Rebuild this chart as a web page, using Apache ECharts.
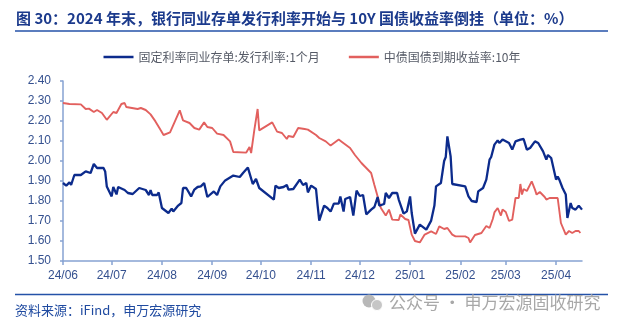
<!DOCTYPE html>
<html><head><meta charset="utf-8">
<script src="https://cdn.jsdelivr.net/npm/echarts@6/dist/echarts.min.js"></script>
<style>html,body{margin:0;padding:0;background:#fff}#c{width:624px;height:328px}</style>
</head><body><div id="c"></div>
<script>
var titleText = '图 30：2024 年末，银行同业存单发行利率开始与 10Y 国债收益率倒挂（单位：%）';
var sourceText = '资料来源：iFind，申万宏源研究';
var watermarkText = '公众号 · 申万宏源固收研究';
var seriesNames = ['固定利率同业存单:发行利率:1个月', '中债国债到期收益率:10年'];
var yTicks = [1.5, 2.4, 0.1];

var blueDates = ['2024-06-01','2024-06-03','2024-06-05','2024-06-06','2024-06-08','2024-06-12','2024-06-15','2024-06-18','2024-06-19','2024-06-20','2024-06-22','2024-06-26','2024-06-27','2024-06-28','2024-07-01','2024-07-02','2024-07-04','2024-07-05','2024-07-09','2024-07-11','2024-07-14','2024-07-18','2024-07-22','2024-07-24','2024-07-25','2024-07-26','2024-07-29','2024-07-30','2024-08-01','2024-08-05','2024-08-07','2024-08-08','2024-08-11','2024-08-13','2024-08-14','2024-08-16','2024-08-19','2024-08-21','2024-08-23','2024-08-25','2024-08-27','2024-08-29','2024-09-02','2024-09-04','2024-09-06','2024-09-09','2024-09-14','2024-09-18','2024-09-20','2024-09-23','2024-09-26','2024-09-27','2024-09-28','2024-09-30','2024-10-09','2024-10-10','2024-10-12','2024-10-15','2024-10-17','2024-10-18','2024-10-21','2024-10-25','2024-10-27','2024-10-29','2024-10-30','2024-11-01','2024-11-04','2024-11-05','2024-11-06','2024-11-07','2024-11-09','2024-11-11','2024-11-13','2024-11-15','2024-11-18','2024-11-19','2024-11-21','2024-11-22','2024-11-25','2024-11-26','2024-11-27','2024-11-29','2024-12-01','2024-12-03','2024-12-05','2024-12-08','2024-12-10','2024-12-12','2024-12-13','2024-12-16','2024-12-17','2024-12-19','2024-12-21','2024-12-24','2024-12-25','2024-12-28','2024-12-30','2025-01-01','2025-01-02','2025-01-04','2025-01-07','2025-01-11','2025-01-14','2025-01-16','2025-01-17','2025-01-20','2025-01-21','2025-01-22','2025-01-23','2025-01-24','2025-01-26','2025-01-27','2025-02-04','2025-02-06','2025-02-08','2025-02-09','2025-02-11','2025-02-12','2025-02-15','2025-02-17','2025-02-19','2025-02-20','2025-02-22','2025-02-24','2025-02-25','2025-02-27','2025-03-03','2025-03-05','2025-03-07','2025-03-10','2025-03-11','2025-03-12','2025-03-14','2025-03-16','2025-03-19','2025-03-21','2025-03-24','2025-03-26','2025-03-27','2025-03-28','2025-03-29','2025-04-01','2025-04-02','2025-04-03','2025-04-05','2025-04-07','2025-04-08','2025-04-10','2025-04-11','2025-04-13','2025-04-15','2025-04-17'];
var blueValues = [1.890,1.877,1.893,1.880,1.930,1.930,1.948,1.940,1.935,1.985,1.965,1.965,1.948,1.873,1.823,1.870,1.833,1.870,1.855,1.840,1.835,1.865,1.855,1.830,1.855,1.830,1.830,1.843,1.765,1.740,1.762,1.748,1.777,1.790,1.865,1.865,1.823,1.857,1.870,1.873,1.890,1.820,1.848,1.830,1.873,1.903,1.927,1.920,1.940,1.967,1.885,1.880,1.910,1.865,1.807,1.877,1.865,1.870,1.880,1.857,1.860,1.907,1.880,1.890,1.843,1.877,1.860,1.777,1.702,1.710,1.777,1.765,1.747,1.787,1.787,1.823,1.747,1.810,1.820,1.828,1.727,1.852,1.825,1.830,1.733,1.757,1.770,1.820,1.777,1.785,1.840,1.815,1.840,1.840,1.807,1.737,1.748,1.823,1.740,1.637,1.682,1.657,1.702,1.777,1.873,1.890,1.900,2.000,2.020,2.123,2.023,1.885,1.873,1.823,1.800,1.810,1.795,1.848,1.865,1.907,2.007,2.020,2.082,2.103,2.090,2.107,2.090,2.057,2.098,2.107,2.098,2.110,2.057,2.065,2.098,2.090,2.048,2.007,2.030,2.023,2.015,1.907,1.922,1.907,1.865,1.832,1.715,1.790,1.765,1.757,1.777,1.757];

var redDates = ['2024-06-01','2024-06-05','2024-06-12','2024-06-15','2024-06-17','2024-06-20','2024-06-22','2024-06-25','2024-06-28','2024-07-02','2024-07-04','2024-07-07','2024-07-09','2024-07-10','2024-07-17','2024-07-19','2024-07-22','2024-07-25','2024-07-28','2024-07-31','2024-08-02','2024-08-06','2024-08-09','2024-08-12','2024-08-14','2024-08-18','2024-08-21','2024-08-24','2024-08-27','2024-08-29','2024-09-01','2024-09-04','2024-09-08','2024-09-12','2024-09-14','2024-09-22','2024-09-24','2024-09-25','2024-09-27','2024-09-29','2024-09-30','2024-10-08','2024-10-11','2024-10-14','2024-10-17','2024-10-18','2024-10-21','2024-10-24','2024-10-28','2024-10-30','2024-11-04','2024-11-06','2024-11-07','2024-11-10','2024-11-13','2024-11-18','2024-11-20','2024-11-25','2024-11-28','2024-12-02','2024-12-05','2024-12-08','2024-12-10','2024-12-12','2024-12-14','2024-12-17','2024-12-19','2024-12-21','2024-12-25','2024-12-26','2024-12-29','2024-12-31','2025-01-02','2025-01-04','2025-01-07','2025-01-10','2025-01-14','2025-01-17','2025-01-19','2025-01-22','2025-01-24','2025-01-27','2025-01-29','2025-02-04','2025-02-06','2025-02-07','2025-02-10','2025-02-14','2025-02-17','2025-02-19','2025-02-21','2025-02-22','2025-02-24','2025-02-26','2025-02-27','2025-03-01','2025-03-03','2025-03-05','2025-03-07','2025-03-09','2025-03-10','2025-03-11','2025-03-12','2025-03-14','2025-03-17','2025-03-19','2025-03-20','2025-03-22','2025-03-25','2025-03-26','2025-03-28','2025-04-02','2025-04-04','2025-04-07','2025-04-09','2025-04-11','2025-04-13','2025-04-15','2025-04-16'];
var redValues = [2.290,2.285,2.283,2.260,2.262,2.245,2.255,2.240,2.206,2.245,2.240,2.285,2.290,2.270,2.260,2.265,2.255,2.233,2.198,2.157,2.130,2.143,2.198,2.253,2.203,2.190,2.165,2.157,2.193,2.170,2.165,2.137,2.130,2.098,2.045,2.042,2.070,2.040,2.157,2.260,2.153,2.193,2.147,2.140,2.110,2.125,2.120,2.165,2.160,2.157,2.130,2.115,2.123,2.098,2.077,2.107,2.095,2.065,2.030,1.990,1.965,1.940,1.880,1.823,1.765,1.727,1.757,1.707,1.705,1.733,1.710,1.705,1.632,1.600,1.593,1.632,1.648,1.635,1.673,1.660,1.665,1.632,1.623,1.623,1.615,1.593,1.630,1.640,1.675,1.665,1.710,1.743,1.765,1.727,1.757,1.745,1.700,1.707,1.815,1.815,1.885,1.832,1.860,1.850,1.898,1.857,1.832,1.845,1.820,1.807,1.815,1.815,1.690,1.632,1.650,1.640,1.650,1.650,1.640];

// calendar-day categories for the x axis
var categories = [];
(function(){
  var t = Date.UTC(2024,5,1), end = Date.UTC(2025,3,17);
  while (t <= end) { categories.push(new Date(t).toISOString().slice(0,10)); t += 86400000; }
})();
function pairs(d, v){ return d.map(function(x,i){ return [x, v[i]]; }); }
function isMonthStart(i, v){ return v.slice(8,10) === '01'; }

var chart = echarts.init(document.getElementById('c'), null, {renderer:'canvas'});
var axisCol = '#86a2d2', labCol = '#34508f';
chart.setOption({
  animation:false,
  backgroundColor:'#fff',
  textStyle:{fontFamily:'"Liberation Sans", Arial, "Noto Sans CJK SC", sans-serif'},
  grid:{left:63, right:42, top:81, bottom:67, containLabel:false},
  legend:{
    top:46, left:'center', icon:'rect', itemWidth:30, itemHeight:2.5, itemGap:29,
    textStyle:{fontSize:12, color:'#555a66', fontFamily:'"Noto Sans CJK SC", sans-serif'},
    data:seriesNames
  },
  xAxis:{
    type:'category', data:categories, boundaryGap:false,
    axisLine:{show:true, lineStyle:{color:axisCol, width:1.5}},
    axisTick:{show:true, interval:isMonthStart, length:4, lineStyle:{color:axisCol, width:1.5}},
    axisLabel:{interval:isMonthStart, color:labCol, fontSize:12, margin:9,
      formatter:function(v){ return v.slice(2,4)+'/'+v.slice(5,7); }},
    splitLine:{show:false}
  },
  yAxis:{
    type:'value', min:yTicks[0], max:yTicks[1], interval:yTicks[2],
    axisLine:{show:true, lineStyle:{color:axisCol, width:1.5}},
    axisTick:{show:true, length:3, lineStyle:{color:axisCol, width:1.5}},
    axisLabel:{color:labCol, fontSize:12, margin:12, formatter:function(v){ return v.toFixed(2); }},
    splitLine:{show:false}
  },
  series:[
    {name:seriesNames[0], type:'line', data:pairs(blueDates, blueValues), symbol:'none',
     lineStyle:{color:'#0c2b8c', width:2.3}, itemStyle:{color:'#0c2b8c'}, z:3},
    {name:seriesNames[1], type:'line', data:pairs(redDates, redValues), symbol:'none',
     lineStyle:{color:'#e2605e', width:1.9}, itemStyle:{color:'#e2605e'}, z:2}
  ],
  graphic:[
    {type:'text', left:16, top:11, style:{text:titleText, fill:'#1b3a8c', font:'bold 15px "Noto Sans CJK SC", sans-serif'}},
    {type:'line', shape:{x1:15, y1:31, x2:608, y2:31}, style:{stroke:'#2452a8', lineWidth:1.5}},
    {type:'line', shape:{x1:15, y1:294.5, x2:608, y2:294.5}, style:{stroke:'#2452a8', lineWidth:1.5}},
    {type:'text', left:15, top:304, style:{text:sourceText, fill:'#1f4aa0', font:'13px "Noto Sans CJK SC", sans-serif'}},
    {type:'circle', shape:{cx:369, cy:301, r:6.5}, style:{fill:'#b8b8b8'}},
    {type:'circle', shape:{cx:377, cy:305, r:5.5}, style:{fill:'#c6c6c6', stroke:'#fff', lineWidth:1}},
    {type:'text', left:389, top:294, style:{text:watermarkText, fill:'#a8a8a8', font:'17px "Noto Sans CJK SC", sans-serif'}}
  ]
});
</script></body></html>
